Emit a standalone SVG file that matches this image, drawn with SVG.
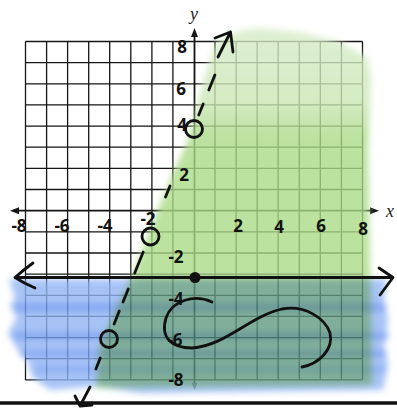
<svg xmlns="http://www.w3.org/2000/svg" width="397" height="409" viewBox="0 0 397 409">
<style>
.grid{stroke:#151515;stroke-width:1.3;fill:none}
.axis{stroke:#151515;stroke-width:1.8;fill:none}
.ink{stroke:#111;stroke-width:2.8;fill:none;stroke-linecap:round;stroke-linejoin:round}
.hand{font-family:"Open Sans","Liberation Sans",sans-serif;font-weight:700;font-size:17px;fill:#111;text-anchor:middle}
.var{font-family:"Liberation Serif",serif;font-style:italic;font-size:18px;fill:#222}
.streak{fill:#6995ef}
</style>
<defs>
<filter id="soft" x="-10%" y="-10%" width="120%" height="120%"><feGaussianBlur stdDeviation="3"/></filter>
<linearGradient id="gg" gradientUnits="userSpaceOnUse" x1="0" y1="30" x2="0" y2="390">
<stop offset="0" stop-color="#d6ecc8"/>
<stop offset="0.2" stop-color="#cbe7b5"/>
<stop offset="0.3" stop-color="#abdb88"/>
<stop offset="1" stop-color="#abdb88"/>
</linearGradient>
</defs>
<rect width="397" height="409" fill="#fff"/>
<g id="grid">
<path class="grid" d="M25.5 41.5V379.9M46.6 41.5V379.9M67.6 41.5V379.9M88.7 41.5V379.9M109.7 41.5V379.9M130.8 41.5V379.9M151.9 41.5V379.9M172.9 41.5V379.9M215 41.5V379.9M236.1 41.5V379.9M257.2 41.5V379.9M278.2 41.5V379.9M299.3 41.5V379.9M320.3 41.5V379.9M341.4 41.5V379.9M362.5 41.5V379.9M25.5 41.5H362.5M25.5 62.6H362.5M25.5 83.8H362.5M25.5 104.9H362.5M25.5 126.1H362.5M25.5 147.2H362.5M25.5 168.4H362.5M25.5 189.5H362.5M25.5 231.8H362.5M25.5 253H362.5M25.5 274.1H362.5M25.5 295.3H362.5M25.5 316.4H362.5M25.5 337.6H362.5M25.5 358.7H362.5M25.5 379.9H362.5"/>
</g>
<g id="axes">
<path class="axis" d="M194.5 35V384M14 210.7H372"/>
<path d="M194.5 28l-3.5 9h7z" fill="#151515"/>
<path d="M379 210.7l-9 -3.5v7z" fill="#151515"/>
<path d="M10 210.7l9 -3.5v7z" fill="#151515"/>
<path d="M194.5 390l-3 -7h6z" fill="#555"/>
<text class="var" x="190" y="20">y</text>
<text class="var" x="386" y="217">x</text>
</g>
<g id="regions" opacity="0.8">
<path id="green" filter="url(#soft)" fill="url(#gg)" d="M215 45C225 35 245 28 260 28L300 32L340 42L368 58L371 80L368 150L370 260L372 385L96 388L100 345L118 305L132 277L140 255L163 197L173 173L187 143L198 103L205 75Z"/>
<g id="blue" style="mix-blend-mode:multiply" filter="url(#soft)">
<path fill="#92b5f4" d="M9 279L386 279L384 300L388 320L384 345L388 365L383 390L300 391L140 393L100 386L50 390L32 377L27 360L16 347L8 333L17 317L10 307L15 297Z"/>
<rect class="streak" x="14" y="303" width="372" height="9" rx="4"/>
<rect class="streak" x="12" y="332" width="376" height="8" rx="4"/>
<rect class="streak" x="20" y="350" width="366" height="7" rx="3"/>
<rect class="streak" x="35" y="366" width="350" height="7" rx="3" opacity="0.7"/>
</g>
</g>
<g id="connectors">
<path class="ink" d="M218 57L230.5 32M215 38L230.5 32L233 52"/>
<path class="ink" d="M214.9 75L208.8 90M203.2 104L198.7 115M170 186L165.5 197M143.2 252L134.7 273M128.3 289L123 302M119.3 311L114.1 324M100.3 358L95.9 369M90 387L80 406M75 396L80 406L92 405"/>
<path class="ink" stroke-width="3.5" d="M15 277.5H393M33 263C26 268 20 273 15 277.5C22 282 28 285 35 288M379 268L393 277.5L380 295"/>
</g>
<g id="n-p4"><circle class="ink" cx="194" cy="129" r="8.5"/></g>
<g id="n-pm2"><circle class="ink" cx="150.5" cy="236.5" r="8.5"/></g>
<g id="n-pm4"><circle class="ink" cx="109" cy="339" r="8.5"/></g>
<g id="n-dot"><circle cx="195" cy="277.5" r="5.5" fill="#111"/></g>
<g id="curve"><path class="ink" stroke-width="3" d="M212 302C195 294 172 300 166 318C160 338 172 348 192 348C225 346 250 316 282 309C305 305 325 318 330 333C334 350 318 364 302 367"/></g>
<g id="labels">
<text class="hand" x="19" y="232">-8</text>
<text class="hand" x="62" y="232">-6</text>
<text class="hand" x="105" y="232">-4</text>
<text class="hand" x="148" y="225">-2</text>
<text class="hand" x="238" y="232">2</text>
<text class="hand" x="279" y="233">4</text>
<text class="hand" x="321" y="232">6</text>
<text class="hand" x="363" y="235">8</text>
<text class="hand" x="182" y="53">8</text>
<text class="hand" x="181" y="95">6</text>
<text class="hand" x="182" y="131">4</text>
<text class="hand" x="184" y="181">2</text>
<text class="hand" x="176" y="263">-2</text>
<text class="hand" x="176" y="305">-4</text>
<text class="hand" x="175" y="346">-6</text>
<text class="hand" x="176" y="386">-8</text>
</g>
<path d="M0 403H397" stroke="#111" stroke-width="3.5"/>
</svg>
